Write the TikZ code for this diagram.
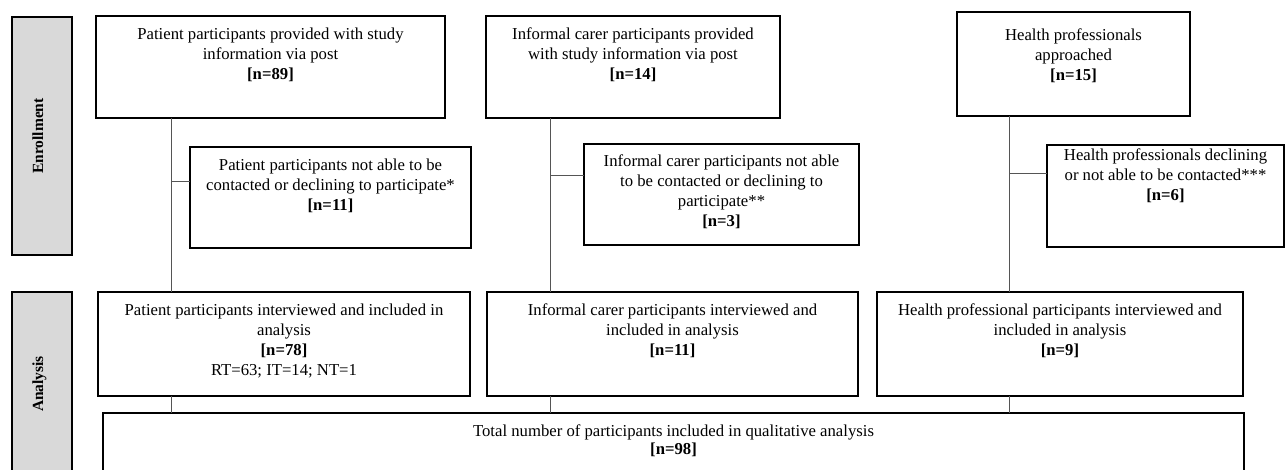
\documentclass[tikz,border=0pt]{standalone}
\usepackage{fontspec}
\setmainfont{Liberation Serif}
\definecolor{sidegray}{HTML}{D9D9D9}
\definecolor{linegray}{HTML}{555555}
\tikzset{
  box/.style={draw=black, line width=1.3pt, inner sep=0pt, outer sep=0pt, fill=white},
  side/.style={box, fill=sidegray},
  txt/.style={align=center, inner sep=0pt, font=\fontsize{16.7}{20}\selectfont, anchor=north},
  sidetxt/.style={inner sep=0pt, rotate=90, anchor=base, font=\fontsize{15.5}{18}\selectfont\bfseries},
  conn/.style={draw=linegray, line width=0.9pt},
}
\newcommand\flowbox[7]{%
  \node[box, minimum width={(#4-#2)*1pt}, minimum height={(#5-#3)*1pt}] (#1) at ({(#2+#4)/2},{(#3+#5)/2}) {};
  \node[txt] (#1t) at ({(#2+#4)/2},#6) {#7};
}
\begin{document}
\begin{tikzpicture}[x=1pt,y=-1pt]
\path[use as bounding box, clip] (0,0) rectangle (1285,470);

% connector positions
\coordinate (pv) at (171,0);
\coordinate (iv) at (550,0);
\coordinate (hv) at (1009,0);
\coordinate (pb) at (171,181);
\coordinate (ib) at (550,175);
\coordinate (hb) at (1009,173);

% side labels
\node[side, minimum width=60pt, minimum height=238pt] (enr) at (42,136) {};
\node[sidetxt] (enrt) at (43,136) {Enrollment};
\node[side, minimum width=60pt, minimum height=188pt] (ana) at (42,386) {};
\node[sidetxt] (anat) at (43,384) {Analysis};

% enrollment boxes
\flowbox{p1}{96}{16}{445}{118}{28}{Patient participants provided with study\\information via post\\\textbf{[n=89]}}
\flowbox{i1}{486}{16}{780}{118}{28}{Informal carer participants provided\\with study information via post\\\textbf{[n=14]}}
\flowbox{h1}{957}{12}{1190}{116}{29}{Health professionals\\approached\\\textbf{[n=15]}}

\flowbox{p2}{190}{147}{471}{248}{159}{Patient participants not able to be\\contacted or declining to participate*\\\textbf{[n=11]}}
\flowbox{i2}{584}{144}{859}{245}{155}{Informal carer participants not able\\to be contacted or declining to\\participate**\\\textbf{[n=3]}}
\flowbox{h2}{1047}{145}{1284}{247}{149}{Health professionals declining\\or not able to be contacted***\\\textbf{[n=6]}}

% analysis boxes
\flowbox{p3}{98}{292}{470}{396}{304}{Patient participants interviewed and included in\\analysis\\\textbf{[n=78]}\\RT=63; IT=14; NT=1}
\flowbox{i3}{487}{292}{858}{396}{304}{Informal carer participants interviewed and\\included in analysis\\\textbf{[n=11]}}
\flowbox{h3}{877}{292}{1243}{396}{304}{Health professional participants interviewed and\\included in analysis\\\textbf{[n=9]}}

\node[box, minimum width=1141pt, minimum height=67pt] (tot) at (673.5,446.5) {};
\node[txt, font=\fontsize{16.7}{18}\selectfont] (tott) at (673.5,425) {Total number of participants included in qualitative analysis\\\textbf{[n=98]}};

% connectors
\begin{scope}[on background layer/.try]
\end{scope}
\draw[conn] (p1.south -| pv) -- (p3.north -| pv);
\draw[conn] (pb) -- (p2.west |- pb);
\draw[conn] (i1.south -| iv) -- (i3.north -| iv);
\draw[conn] (ib) -- (i2.west |- ib);
\draw[conn] (h1.south -| hv) -- (h3.north -| hv);
\draw[conn] (hb) -- (h2.west |- hb);
\draw[conn] (p3.south -| pv) -- (tot.north -| pv);
\draw[conn] (i3.south -| iv) -- (tot.north -| iv);
\draw[conn] (h3.south -| hv) -- (tot.north -| hv);
\end{tikzpicture}
\end{document}
